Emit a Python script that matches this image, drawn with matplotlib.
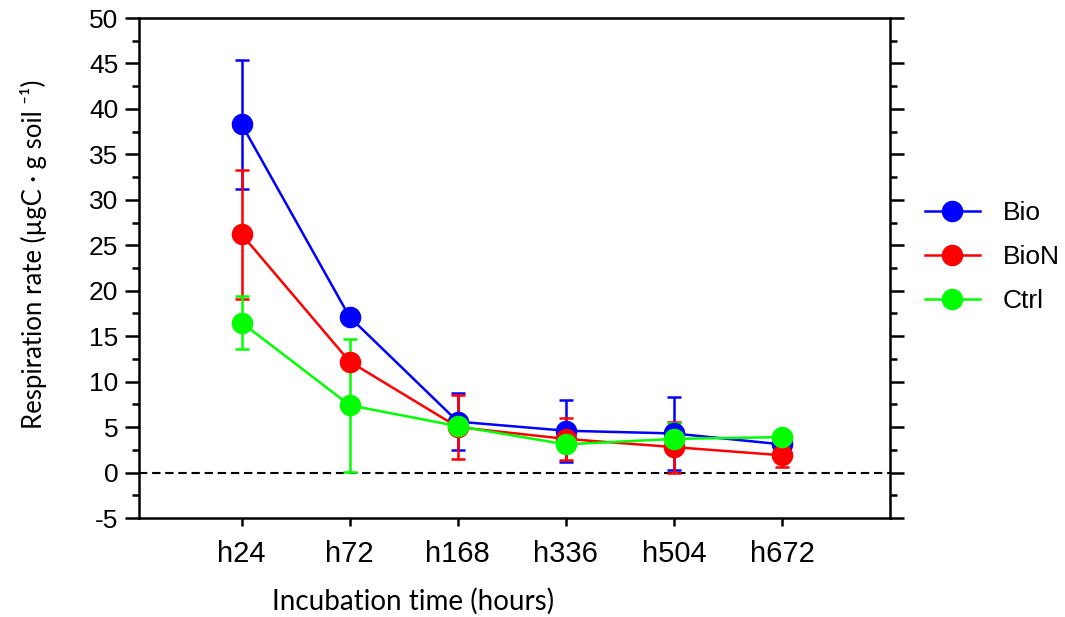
import matplotlib
matplotlib.use("Agg")
import matplotlib.pyplot as plt
from matplotlib.ticker import MultipleLocator

plt.rcParams["font.family"] = ["Liberation Sans", "DejaVu Sans"]
plt.rcParams["axes.unicode_minus"] = False

# data
times = ["h24", "h72", "h168", "h336", "h504", "h672"]

bio = [38.3, 17.1, 5.6, 4.6, 4.3, 3.1]
bio_err = [7.1, 0.0, 3.1, 3.4, 4.0, 0.0]

bion = [26.2, 12.2, 5.0, 3.7, 2.8, 1.9]
bion_err = [7.1, 0.0, 3.5, 2.3, 2.8, 1.3]

ctrl = [16.5, 7.4, 5.1, 3.1, 3.7, 3.9]
ctrl_err = [2.9, 7.3, 0.0, 0.0, 1.7, 0.0]

series = [("Bio", bio, bio_err, "#0000ff"),
          ("BioN", bion, bion_err, "#ff0000"),
          ("Ctrl", ctrl, ctrl_err, "#00ff00")]

fig = plt.figure(figsize=(10.65, 6.17), dpi=100)
ax = fig.add_axes([139 / 1065, 1 - 518 / 617, 751 / 1065, 500 / 617])

x = list(range(1, len(times) + 1))

ax.axhline(0, color="black", linestyle=(0, (4, 2.3)), linewidth=1.5, zorder=1)

handles = []
for name, vals, errs, col in series:
    h = ax.errorbar(x, vals, yerr=errs, color=col, marker="o", markersize=14.5,
                    linewidth=1.8, elinewidth=1.8, capsize=5, capthick=1.8,
                    label=name, zorder=3)
    handles.append(h[0])

ax.set_xlim(0.05, 7.0)
ax.set_ylim(-5, 50)
ax.set_xticks(x)
ax.set_xticklabels(times, fontsize=21)
ax.yaxis.set_major_locator(MultipleLocator(5))
ax.yaxis.set_minor_locator(MultipleLocator(2.5))

ax.tick_params(axis="y", which="both", direction="out", right=True, width=1.8,
               labelsize=19)
ax.tick_params(axis="y", which="major", length=10, pad=5)
ax.tick_params(axis="y", which="minor", length=5)
ax.tick_params(axis="x", direction="out", length=6, width=1.8, pad=10)
for sp in ax.spines.values():
    sp.set_linewidth(1.8)

ax.set_xlabel("Incubation time (hours)", family=["Lato", "DejaVu Sans"], fontsize=20)
ax.xaxis.set_label_coords(0.365, -0.14)
ax.set_ylabel("Respiration rate (µgC · g soil ⁻¹)", family=["Lato", "DejaVu Sans"],
              fontsize=18.5)
ax.yaxis.set_label_coords(-0.122, 0.528)

leg = ax.legend(handles, [s[0] for s in series], loc="center left",
                bbox_to_anchor=(1.046, 0.522), frameon=False,
                prop={"family": "Liberation Sans", "size": 19}, borderpad=0,
                handlelength=2.1, handletextpad=0.85, labelspacing=0.75,
                borderaxespad=0)

fig.savefig("out.png", dpi=100)
